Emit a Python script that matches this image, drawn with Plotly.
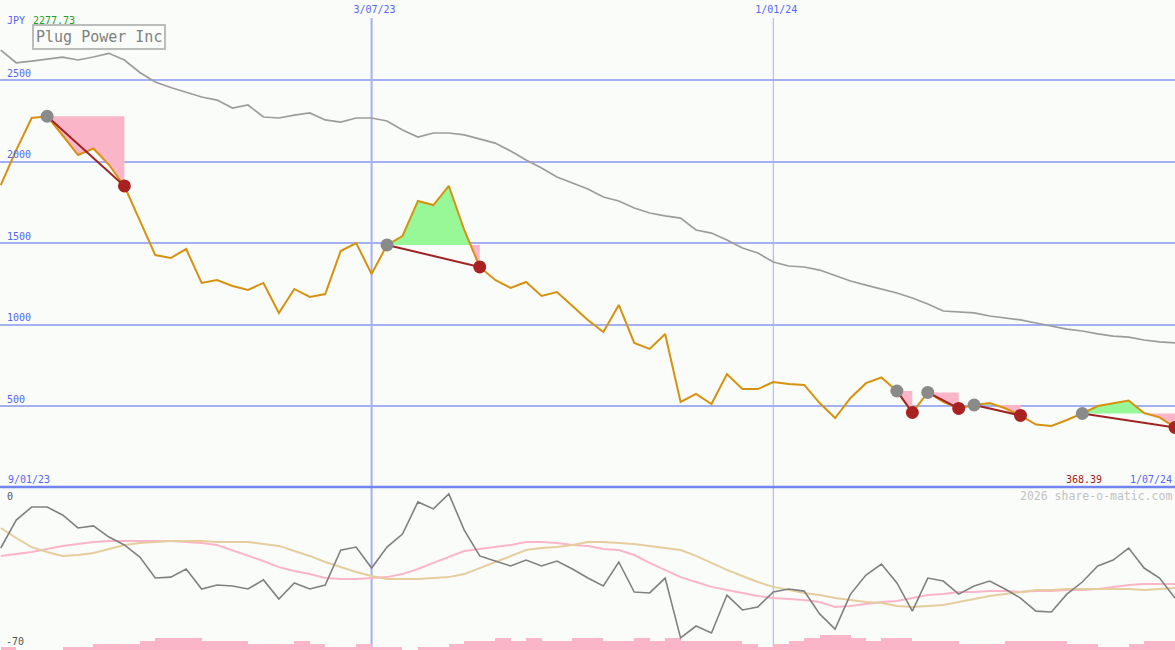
import plotly.graph_objects as go

# ---------------- data ----------------
weeks = list(range(77))  # weekly points, 16 Jan 2023 .. 1 Jul 2024

price = [1856, 2070, 2267, 2277.73, 2160, 2040, 2080, 1980, 1850, 1640,
         1426, 1408, 1463, 1255, 1273, 1236, 1212, 1255, 1071, 1218,
         1169, 1187, 1451, 1500, 1310, 1488, 1543, 1758, 1733, 1850,
         1580, 1353, 1273, 1224, 1261, 1175, 1199, 1113, 1027, 954,
         1120, 887, 850, 942, 525, 574, 512, 696, 604, 604,
         647, 635, 629, 518, 426, 549, 640, 675, 592, 460,
         583, 525, 485, 506, 518, 486, 442, 386, 377, 414,
         454, 500, 515, 534, 457, 430, 368.39]

ma = [2684, 2606, 2616, 2629, 2641, 2623, 2641, 2664, 2623, 2546,
      2488, 2454, 2426, 2396, 2377, 2328, 2347, 2273, 2267, 2285,
      2298, 2255, 2242, 2267, 2267, 2249, 2193, 2150, 2175, 2175,
      2163, 2138, 2113, 2064, 2009, 1960, 1905, 1868, 1831, 1782,
      1758, 1715, 1684, 1666, 1653, 1580, 1561, 1518, 1469, 1439,
      1383, 1359, 1353, 1334, 1298, 1267, 1242, 1218, 1193, 1163,
      1126, 1083, 1077, 1071, 1052, 1040, 1028, 1009, 991, 972,
      960, 942, 929, 923, 905, 893, 887]

osc = [-26.2, -14.2, -8.6, -8.6, -12.0, -17.6, -16.7, -21.5, -24.9, -30.1,
       -39.1, -38.7, -35.2, -43.8, -42.1, -42.5, -43.8, -39.9, -48.1, -41.2,
       -43.8, -42.1, -27.1, -25.8, -34.8, -25.8, -20.2, -6.4, -9.4, -3.0,
       -18.5, -29.6, -31.8, -33.9, -31.4, -33.9, -31.8, -35.2, -39.1, -42.5,
       -32.2, -45.1, -45.5, -39.1, -64.8, -59.7, -62.7, -46.4, -52.8, -51.5,
       -45.1, -43.8, -44.7, -54.5, -61.0, -46.0, -37.8, -33.1, -41.2, -53.3,
       -39.1, -40.4, -46.0, -42.5, -40.4, -43.8, -47.7, -53.3, -53.7, -46.0,
       -40.8, -33.9, -31.4, -26.2, -34.8, -39.1, -47.7]

osc_pink = [-29.6, -28.8, -27.9, -26.6, -25.3, -24.5, -23.6, -23.2, -23.2, -23.2,
            -23.2, -23.2, -23.6, -24.0, -24.9, -27.1, -29.6, -31.8, -34.4, -36.1,
            -37.4, -39.1, -39.5, -39.5, -39.1, -38.7, -37.4, -35.2, -32.6, -30.1,
            -27.5, -26.6, -25.8, -24.9, -23.6, -23.6, -24.0, -24.9, -25.3, -26.6,
            -27.1, -29.2, -32.6, -35.6, -38.7, -40.8, -42.9, -44.2, -45.5, -46.8,
            -47.7, -48.1, -48.5, -49.4, -51.5, -51.1, -50.2, -49.4, -49.0, -47.7,
            -46.4, -46.0, -45.1, -45.1, -44.7, -44.7, -45.1, -44.7, -44.7, -44.2,
            -44.2, -43.8, -42.9, -42.1, -41.7, -41.7, -41.7]

osc_tan = [-17.6, -21.9, -25.8, -27.9, -29.6, -29.2, -28.3, -26.6, -24.9, -24.0,
           -23.6, -23.2, -23.2, -23.2, -23.6, -23.6, -23.6, -24.5, -25.3, -27.5,
           -29.6, -32.2, -34.4, -36.5, -38.2, -39.5, -39.5, -39.5, -39.1, -38.7,
           -37.4, -34.8, -32.2, -29.6, -27.1, -26.2, -25.8, -24.9, -23.6, -23.6,
           -24.0, -24.5, -25.3, -26.2, -27.1, -29.6, -32.6, -35.6, -38.2, -40.8,
           -42.9, -44.2, -45.5, -46.4, -47.7, -48.5, -49.4, -49.8, -51.1, -51.5,
           -51.1, -50.7, -49.4, -48.1, -46.8, -46.0, -45.1, -44.2, -44.2, -43.8,
           -43.8, -43.8, -43.8, -43.8, -44.2, -43.8, -43.4]

volume_level = [1, 0, 0, 0, 1, 1, 2, 2, 2, 3,
                4, 4, 4, 3, 3, 3, 2, 2, 2, 3,
                2, 1, 1, 2, 1, 1, 0, 1, 1, 2,
                3, 3, 4, 3, 4, 3, 3, 4, 4, 3,
                3, 4, 3, 4, 3, 3, 3, 3, 2, 1,
                2, 3, 4, 5, 5, 4, 3, 4, 4, 3,
                3, 3, 2, 2, 2, 3, 3, 3, 3, 2,
                2, 1, 1, 2, 3, 3]

signal_start = [3, 25, 58, 60, 63, 70]
signal_end = [8, 31, 59, 62, 66, 76]

date_ticks = [24, 50]
date_labels = ["3/07/23", "1/01/24"]
date_widths = [2, 1]
first_date = "9/01/23"
last_date = "1/07/24"
title = "Plug Power Inc"
currency = "JPY"

# ---------------- styles ----------------
BG = "#fafcfa"
BLUE = "#5567f2"
GRID = "#a3b1f2"
FONT = "DejaVu Sans Mono"
W, H = 1175, 650
SPLIT = 1 - 487 / H

fig = go.Figure()

# signal fills
for s, e in zip(signal_start, signal_end):
    L = price[s]
    xs, ps = [], []
    for k in range(s, e + 1):
        xs.append(weeks[k]); ps.append(price[k])
        if k < e and (price[k] - L) * (price[k + 1] - L) < 0:
            t = (L - price[k]) / (price[k + 1] - price[k])
            xs.append(weeks[k] + t); ps.append(L)
    lvl = [L] * len(xs)
    up = [max(p, L) for p in ps]
    lo = [min(p, L) for p in ps]
    fig.add_trace(go.Scatter(x=xs, y=lvl, mode="lines", line=dict(width=0), showlegend=False, hoverinfo="skip"))
    fig.add_trace(go.Scatter(x=xs, y=up, mode="lines", line=dict(width=0), fill="tonexty",
                             fillcolor="#98f898", showlegend=False, hoverinfo="skip"))
    fig.add_trace(go.Scatter(x=xs, y=lvl, mode="lines", line=dict(width=0), showlegend=False, hoverinfo="skip"))
    fig.add_trace(go.Scatter(x=xs, y=lo, mode="lines", line=dict(width=0), fill="tonexty",
                             fillcolor="#fbb5c9", showlegend=False, hoverinfo="skip"))

# moving average
fig.add_trace(go.Scatter(x=weeks, y=ma, mode="lines", line=dict(color="#9c9c9c", width=1.7), showlegend=False))
# price
fig.add_trace(go.Scatter(x=weeks, y=price, mode="lines", line=dict(color="#d6920e", width=2), showlegend=False))

# signal connecting lines and markers
for s, e in zip(signal_start, signal_end):
    fig.add_trace(go.Scatter(x=[weeks[s], weeks[e]], y=[price[s], price[e]], mode="lines",
                             line=dict(color="#a02424", width=2), showlegend=False))
fig.add_trace(go.Scatter(x=[weeks[s] for s in signal_start], y=[price[s] for s in signal_start],
                         mode="markers", marker=dict(color="#8a8a8a", size=13, line=dict(width=0)),
                         showlegend=False))
fig.add_trace(go.Scatter(x=[weeks[e] for e in signal_end], y=[price[e] for e in signal_end],
                         mode="markers", marker=dict(color="#a82222", size=13, line=dict(width=0)),
                         showlegend=False))

# bottom panel: volume bars (x2,y2) and oscillator lines (x2,y3)
fig.add_trace(go.Bar(x=[w + 0.5 for w in weeks[:len(volume_level)]], y=volume_level, width=1,
                     marker=dict(color="#fbb5c9", line=dict(width=0)), xaxis="x2", yaxis="y2",
                     showlegend=False))
fig.add_trace(go.Scatter(x=weeks, y=osc_pink, mode="lines", line=dict(color="#fbb5c9", width=2),
                         xaxis="x2", yaxis="y3", showlegend=False))
fig.add_trace(go.Scatter(x=weeks, y=osc_tan, mode="lines", line=dict(color="#e6cd9e", width=2),
                         xaxis="x2", yaxis="y3", showlegend=False))
fig.add_trace(go.Scatter(x=weeks, y=osc, mode="lines", line=dict(color="#808080", width=1.6),
                         xaxis="x2", yaxis="y3", showlegend=False))

xr = [-0.05, 76.0]
shapes = []
for xv, wdt in zip(date_ticks, date_widths):
    shapes.append(dict(type="line", xref="x", yref="paper", x0=xv, x1=xv, y0=0, y1=1 - 18 / H,
                       line=dict(color=GRID, width=wdt), layer="below"))
shapes.append(dict(type="line", xref="paper", yref="paper", x0=0, x1=1, y0=SPLIT, y1=SPLIT,
                   line=dict(color="#7383f0", width=2.5), layer="above"))

def px_y(py):
    return 1 - py / H

annotations = [
    dict(text=currency, x=5 / W, y=px_y(20), xanchor="left", yanchor="middle",
         font=dict(color=BLUE, size=10, family=FONT)),
    dict(text=f"{max(price):.2f}", x=31 / W, y=px_y(20), xanchor="left", yanchor="middle",
         font=dict(color="#22a022", size=10, family=FONT)),
    dict(text=title, x=32 / W, y=px_y(24), xanchor="left", yanchor="top",
         font=dict(color="#808080", size=15, family=FONT), bordercolor="#bcbcbc", borderwidth=2,
         borderpad=2, bgcolor=BG),
    dict(text=first_date, x=6 / W, y=px_y(479), xanchor="left", yanchor="middle",
         font=dict(color=BLUE, size=10, family=FONT)),
    dict(text=f"{price[-1]:.2f}", x=1104 / W, y=px_y(479), xanchor="right", yanchor="middle",
         font=dict(color="#a02020", size=10, family=FONT)),
    dict(text=last_date, x=1174 / W, y=px_y(479), xanchor="right", yanchor="middle",
         font=dict(color=BLUE, size=10, family=FONT)),
    dict(text="2026 share-o-matic.com", x=1174 / W, y=px_y(496), xanchor="right", yanchor="middle",
         font=dict(color="#c2c2c2", size=11.5, family=FONT)),
    dict(text="0", x=5 / W, y=px_y(496), xanchor="left", yanchor="middle",
         font=dict(color="#555555", size=10, family=FONT)),
    dict(text="-70", x=4 / W, y=px_y(641), xanchor="left", yanchor="middle",
         font=dict(color="#555555", size=10, family=FONT)),
]
for a in annotations:
    a.update(xref="paper", yref="paper", showarrow=False)

fig.update_layout(
    width=W, height=H, margin=dict(l=0, r=0, t=0, b=0),
    paper_bgcolor=BG, plot_bgcolor=BG, showlegend=False, bargap=0,
    shapes=shapes, annotations=annotations,
    xaxis=dict(domain=[0, 1], anchor="y", range=xr, side="top", tickvals=date_ticks, ticktext=date_labels,
               ticklabelposition="inside", ticks="", showgrid=False, zeroline=False, showline=False,
               ticklabelstandoff=3, ticklabelshift=3,
               tickfont=dict(color=BLUE, size=10, family=FONT)),
    yaxis=dict(domain=[SPLIT, 1], anchor="x", range=[3, 2991], tick0=0, dtick=500,
               showgrid=True, gridcolor=GRID, gridwidth=2, zeroline=False, showline=False, ticks="",
               ticklabelposition="inside top", ticklabelstandoff=4,
               tickfont=dict(color=BLUE, size=10, family=FONT)),
    xaxis2=dict(domain=[0, 1], anchor="y2", range=xr, showticklabels=False, showgrid=False,
                zeroline=False, showline=False, ticks=""),
    yaxis2=dict(domain=[0, SPLIT], anchor="x2", range=[0, 163 / 3], showticklabels=False,
                showgrid=False, zeroline=False, showline=False, ticks=""),
    yaxis3=dict(overlaying="y2", anchor="x2", range=[-70, 0], showticklabels=False,
                showgrid=False, zeroline=False, showline=False, ticks=""),
)

fig.write_html("out.html", config={"displayModeBar": False},
               post_script="document.body.style.margin='0px';document.body.style.overflow='hidden';"
                           "document.body.style.background='" + BG + "';")
